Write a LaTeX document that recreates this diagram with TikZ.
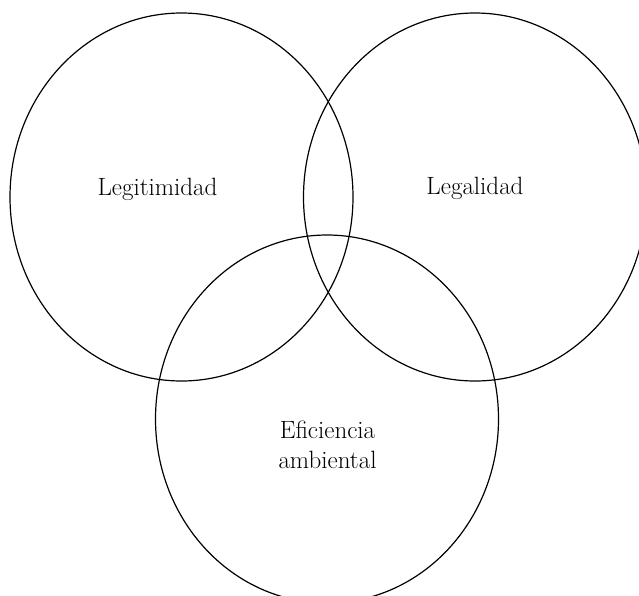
\documentclass[tikz,border=0pt]{standalone}
\usetikzlibrary{shapes.geometric}
\begin{document}
\begin{tikzpicture}[x=1pt,y=-1pt,
  setcirc/.style={draw=black,line width=1.2pt,ellipse,minimum width=343pt,minimum height=368pt,inner sep=0pt},
  lbl/.style={font=\fontsize{25}{30}\selectfont,align=center,inner sep=0pt,anchor=base}]
\useasboundingbox (0,0) rectangle (639,595);
\clip (0,0) rectangle (639,595);
\node[setcirc] (leg) at (181.5,197) {};
\node[setcirc] (legal) at (475,197) {};
\node[setcirc] (efi) at (327,419) {};
\node[lbl] (tleg) at (157.5,195) {Legitimidad};
\node[lbl] (tlegal) at (475,194) {Legalidad};
\node[lbl] (tefi) at (327.5,468) {Eficiencia\\ambiental};
\end{tikzpicture}
\end{document}
